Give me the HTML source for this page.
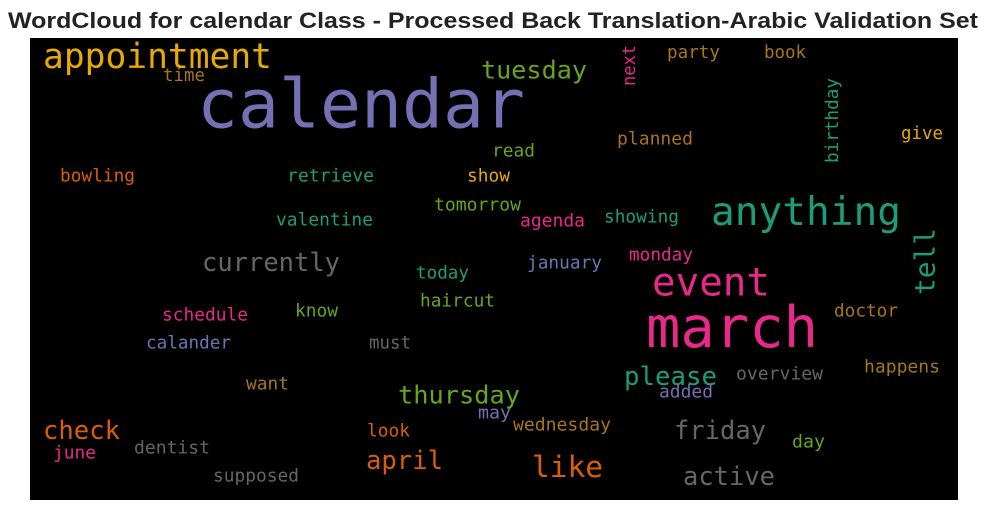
<!DOCTYPE html>
<html><head><meta charset="utf-8"><style>
html,body{margin:0;padding:0;background:#fff;}
svg{display:block;}
text.w{font-family:"DejaVu Sans Mono","Liberation Mono",monospace;dominant-baseline:central;}
</style></head><body>
<svg id="c" width="987" height="511" viewBox="0 0 987 511">
<text x="493" y="28" text-anchor="middle" font-family="Liberation Sans, sans-serif" font-weight="bold" font-size="22" textLength="970" lengthAdjust="spacingAndGlyphs" fill="#222">WordCloud for calendar Class - Processed Back Translation-Arabic Validation Set</text>
<rect x="30" y="38" width="928" height="462" fill="#000"/>
<g id="words"></g>
</svg>
<script>
const words=["appointment","time","calendar","tuesday","next","party","book","birthday","planned","give","read","bowling","retrieve","show","anything","valentine","tomorrow","agenda","showing","tell","currently","event","today","january","monday","haircut","march","schedule","know","doctor","calander","must","please","overview","happens","want","thursday","added","may","check","dentist","look","wednesday","friday","day","june","april","like","supposed","active"];
const colors=["#e6ab02","#a6761d","#7570b3","#66a61e","#e7298a","#a6761d","#a6761d","#1b9e77","#a6761d","#e6ab02","#66a61e","#d95f02","#1b9e77","#e6ab02","#1b9e77","#1b9e77","#66a61e","#e7298a","#1b9e77","#1b9e77","#666666","#e7298a","#1b9e77","#7570b3","#e7298a","#66a61e","#e7298a","#e7298a","#66a61e","#a6761d","#7570b3","#666666","#1b9e77","#666666","#a6761d","#a6761d","#66a61e","#7570b3","#7570b3","#d95f02","#666666","#d95f02","#a6761d","#666666","#66a61e","#e7298a","#d95f02","#d95f02","#666666","#666666"];
// layout: [x0, x1 (or y0,y1 for vertical), center, fontSize, vertical]
const layout=[[43,272,57,34.6,0],[163,205,76,17.4,0],[197,525,105,68,0],[481,587,70,25,0],[45,86,630,17.4,1],[667,720,53,17.6,0],[764,806,53,17.4,0],[78,163,833,17.6,1],[617,693,139,18,0],[901,943,134,17.4,0],[492,535,151,18,0],[60,135,176,18,0],[287,374,176,18,0],[467,510,176,18,0],[711,901,212,39.5,0],[276,373,220,18,0],[434,521,205,18,0],[520,585,221,18,0],[604,679,217,18,0],[228,295,925,28,1],[202,340,263,25.5,0],[652,770,283,39,0],[416,469,273,18,0],[527,602,263,18,0],[629,693,255,18,0],[420,495,301,18,0],[646,818,328,57,0],[162,248,315,18,0],[295,338,311,18,0],[834,898,311,18,0],[146,231,343,18,0],[369,411,343,18,0],[624,717,377,25.7,0],[736,823,374,18,0],[864,940,367,18,0],[246,289,384,18,0],[398,520,395,25.3,0],[659,713,392,18,0],[478,511,413,18,0],[43,120,431,25.6,0],[134,210,448,18,0],[367,410,431,18,0],[513,611,425,18,0],[674,766,431,25.5,0],[792,825,442,18,0],[53,96,453,18,0],[366,443,461,25.6,0],[532,603,467,29.5,0],[213,299,476,18,0],[683,775,477,25.5,0]];
const g=document.getElementById('words');
const NS="http://www.w3.org/2000/svg";
words.forEach((w,i)=>{
  const [a,b,c,fs,v]=layout[i];
  const t=document.createElementNS(NS,'text');
  
  
  t.setAttribute('class','w');
  t.setAttribute('font-size',fs);
  t.setAttribute('fill',colors[i]);
  t.setAttribute('textLength',b-a);
  t.setAttribute('lengthAdjust','spacingAndGlyphs');
  if(v){
    t.setAttribute('x',0);t.setAttribute('y',0);
    t.setAttribute('transform','translate('+c+','+b+') rotate(-90)');
  }else{
    t.setAttribute('x',a);t.setAttribute('y',c);
  }
  t.textContent=w;
  g.appendChild(t);
});
</script>
</body></html>
